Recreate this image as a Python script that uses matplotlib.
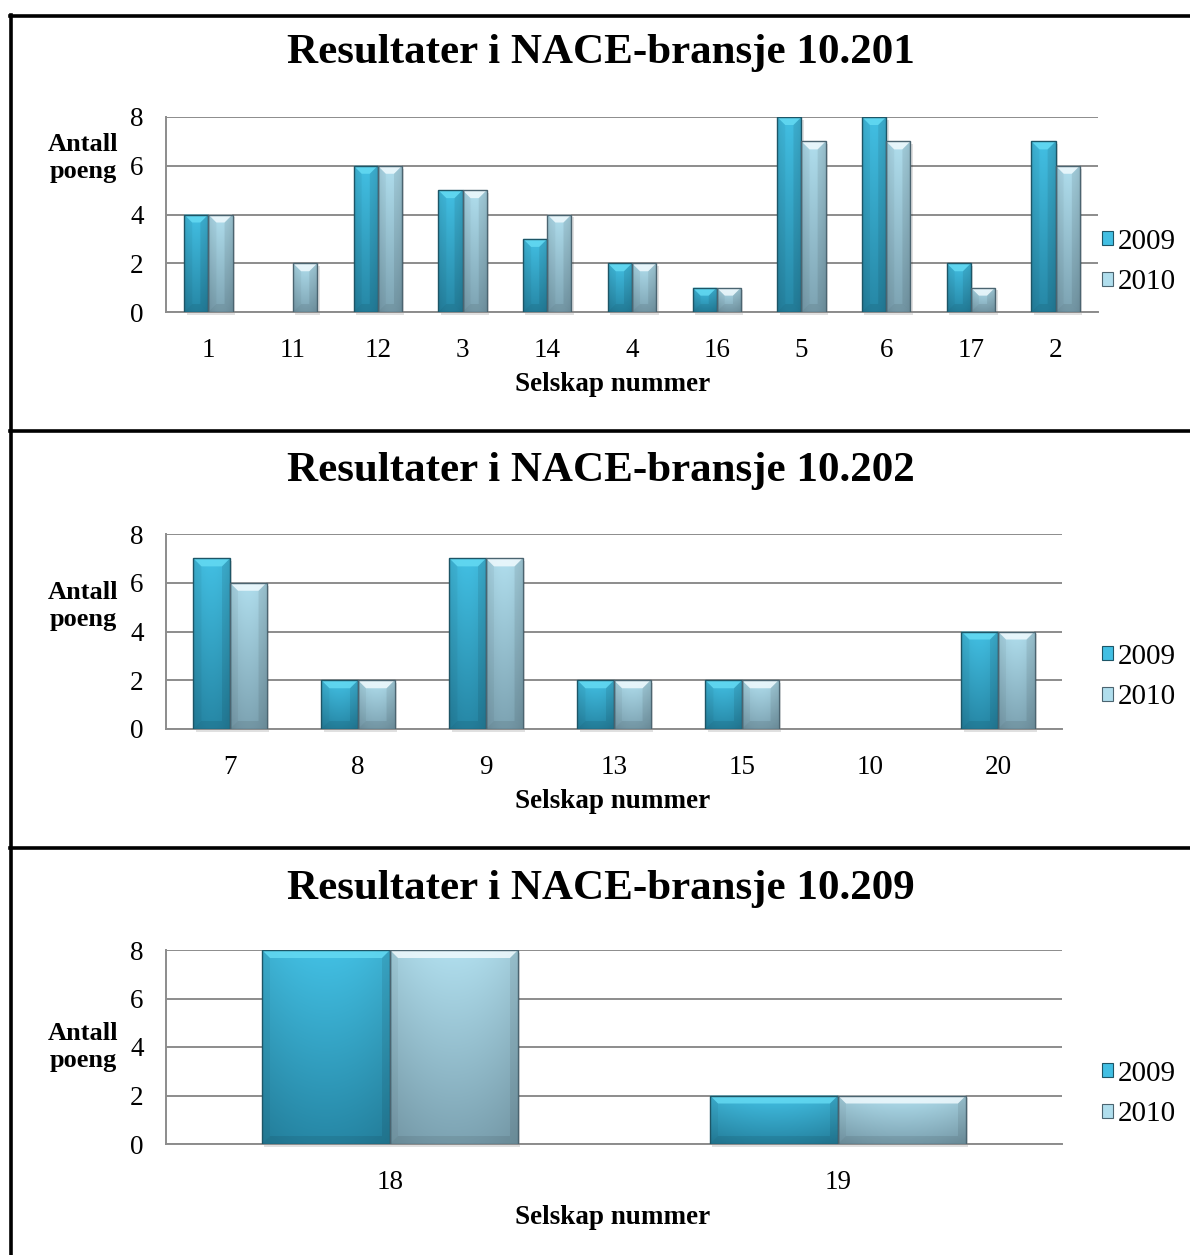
import numpy as np
import matplotlib.pyplot as plt
from matplotlib.patches import Polygon, Rectangle, Patch
from matplotlib.lines import Line2D

# data for the three NACE groups
cats_201 = ['1', '11', '12', '3', '14', '4', '16', '5', '6', '17', '2']
poeng_201_2009 = [4, 0, 6, 5, 3, 2, 1, 8, 8, 2, 7]
poeng_201_2010 = [4, 2, 6, 5, 4, 2, 1, 7, 7, 1, 6]

cats_202 = ['7', '8', '9', '13', '15', '10', '20']
poeng_202_2009 = [7, 2, 7, 2, 2, 0, 4]
poeng_202_2010 = [6, 2, 7, 2, 2, 0, 4]

cats_209 = ['18', '19']
poeng_209_2009 = [8, 2]
poeng_209_2010 = [8, 2]

years = ['2009', '2010']

plt.rcParams['font.family'] = ['Liberation Serif', 'DejaVu Serif']

W, H = 1190, 1255
fig = plt.figure(figsize=(W / 100, H / 100), dpi=100)


def fx(px):
    return px / W


def fy(py):
    return 1 - py / H


# (top colour, bottom colour, edge, bevel highlight)
styles = {
    '2009': ((0.26, 0.75, 0.89), (0.15, 0.53, 0.65), '#1d5566', '#66dcf4'),
    '2010': ((0.69, 0.87, 0.93), (0.49, 0.64, 0.70), '#4b6470', '#f4fcff'),
}
grid_col = '#8c8c8c'


def fancy_bar(ax, patch, style, bx, by):
    top_c, bot_c, edge_c, hi_c = style
    x0 = patch.get_x()
    w = patch.get_width()
    h = patch.get_height()
    if h <= 0:
        patch.set_visible(False)
        return
    x1 = x0 + w
    # soft drop shadow
    ax.add_patch(Rectangle((x0 + bx * 0.3, -by * 0.35), w, h, facecolor='#000000',
                           alpha=0.12, edgecolor='none', zorder=2, clip_on=False))
    # vertical gradient with slightly darker sides
    t = np.linspace(0, 1, 64)[:, None]
    u = np.linspace(-1, 1, 32)[None, :]
    shade = 1 - 0.08 * u ** 2
    img = np.zeros((64, 32, 3))
    for k in range(3):
        img[:, :, k] = (top_c[k] * (1 - t) + bot_c[k] * t) * shade
    im = ax.imshow(np.clip(img, 0, 1), extent=[x0, x1, 0, h], aspect='auto',
                   origin='upper', zorder=3, interpolation='bilinear')
    im.set_clip_path(patch)
    bxx = min(bx, w / 2)
    byy = min(by, h / 2)
    xl = x0 + bxx
    xr = x1 - bxx
    # bevel facets
    ax.add_patch(Polygon([(x0, h), (x1, h), (xr, h - byy), (xl, h - byy)], closed=True,
                         facecolor=hi_c, alpha=0.8, edgecolor='none', zorder=4))
    ax.add_patch(Polygon([(x0, h), (xl, h - byy), (xl, byy), (x0, 0)], closed=True,
                         facecolor='black', alpha=0.04, edgecolor='none', zorder=4))
    ax.add_patch(Polygon([(x1, h), (xr, h - byy), (xr, byy), (x1, 0)], closed=True,
                         facecolor='black', alpha=0.08, edgecolor='none', zorder=4))
    ax.add_patch(Polygon([(x0, 0), (xl, byy), (xr, byy), (x1, 0)], closed=True,
                         facecolor='black', alpha=0.08, edgecolor='none', zorder=4))
    ax.add_patch(Rectangle((x0, 0), w, h, facecolor='none', edgecolor=edge_c,
                           linewidth=1.0, zorder=5))


def draw_panel(left, right, top, bottom, cats, v09, v10, title, title_y, ylab_y, leg_y):
    ax = fig.add_axes([fx(left), fy(bottom), fx(right - left), (bottom - top) / H])
    n = len(cats)
    x = np.arange(n)
    bw = 1 / 3.5
    ax.set_xlim(-0.5, n - 0.5)
    ax.set_ylim(0, 8)
    ax.set_yticks([0, 2, 4, 6, 8])
    ax.set_xticks(x)
    ax.set_xticklabels(cats)
    ax.tick_params(axis='both', length=0, labelsize=19.5)
    ax.tick_params(axis='x', pad=19)
    ax.tick_params(axis='y', pad=16)
    ax.grid(axis='y', color=grid_col, linewidth=1.4, zorder=0)
    ax.set_axisbelow(True)
    for s in ['top', 'right']:
        ax.spines[s].set_visible(False)
    for s in ['left', 'bottom']:
        ax.spines[s].set_color(grid_col)
        ax.spines[s].set_linewidth(1.4)

    p0 = ax.transData.transform((0, 0))
    p1 = ax.transData.transform((1, 1))
    bx = 8 / (p1[0] - p0[0])
    by = 8 / (p1[1] - p0[1])

    bars09 = ax.bar(x - bw / 2, v09, bw, color=styles['2009'][1], linewidth=0, zorder=3)
    bars10 = ax.bar(x + bw / 2, v10, bw, color=styles['2010'][1], linewidth=0, zorder=3)
    for p in bars09:
        fancy_bar(ax, p, styles['2009'], bx, by)
    for p in bars10:
        fancy_bar(ax, p, styles['2010'], bx, by)
    ax.set_xlim(-0.5, n - 0.5)
    ax.set_ylim(0, 8)

    fig.text(fx(601), fy(title_y), title, ha='center', va='center',
             fontsize=31, fontweight='bold')
    fig.text(fx(83), fy(ylab_y), 'Antall\npoeng', ha='center', va='center',
             fontsize=19, fontweight='bold', linespacing=1.25)
    fig.text(fx(613), fy(bottom + 73), 'Selskap nummer', ha='center', va='center',
             fontsize=19.5, fontweight='bold')

    handles = [Patch(facecolor=styles[y][0], edgecolor=styles[y][2], linewidth=0.8)
               for y in years]
    fig.legend(handles, years, loc='center left',
               bbox_to_anchor=(fx(1102), fy(leg_y)), frameon=False, fontsize=21,
               handlelength=0.38, handleheight=0.38, handletextpad=0.15,
               labelspacing=0.5, borderpad=0, borderaxespad=0)
    return ax


draw_panel(166, 1098, 117, 312, cats_201, poeng_201_2009, poeng_201_2010,
           'Resultater i NACE-bransje 10.201', 53, 158, 262)
draw_panel(166, 1062, 534, 729, cats_202, poeng_202_2009, poeng_202_2010,
           'Resultater i NACE-bransje 10.202', 471, 606, 677)
draw_panel(166, 1062, 950, 1144, cats_209, poeng_209_2009, poeng_209_2010,
           'Resultater i NACE-bransje 10.209', 889, 1047, 1094)

# frame lines around the panels
frame_kw = dict(color='black', linewidth=2.6, transform=fig.transFigure)
fig.add_artist(Line2D([fx(11), fx(11)], [fy(15), 0], **frame_kw))
for yy in [16, 431, 848]:
    fig.add_artist(Line2D([fx(10), 1], [fy(yy), fy(yy)], **frame_kw))

fig.savefig('out.png', dpi=100, facecolor='white')
